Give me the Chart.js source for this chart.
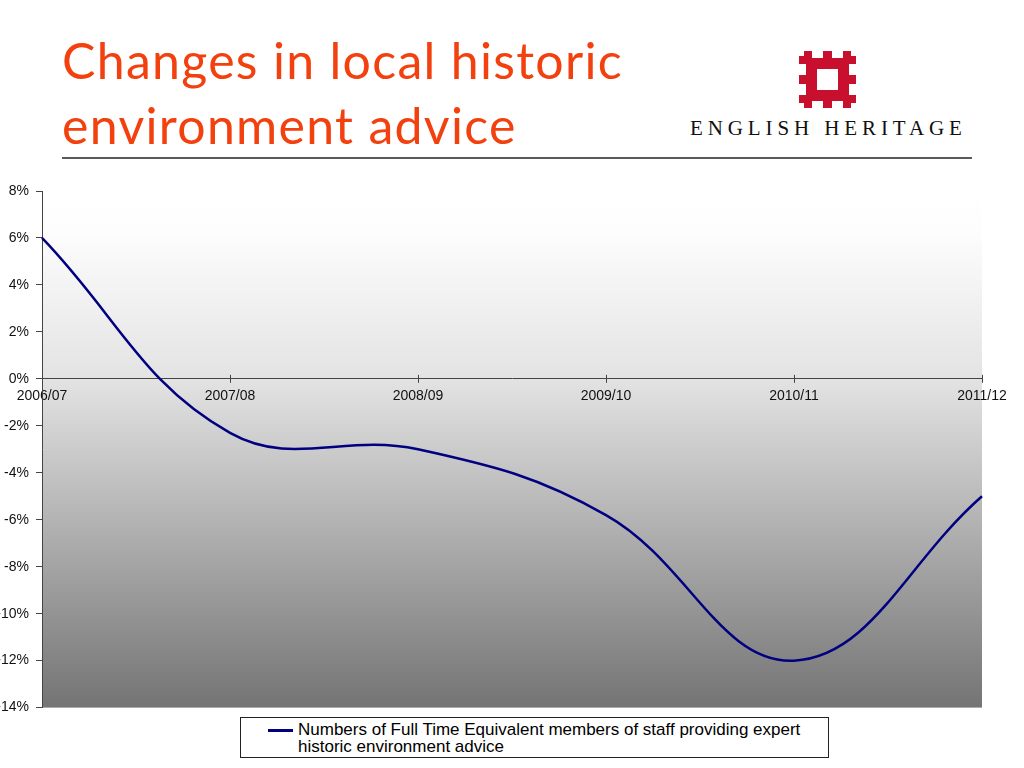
<!DOCTYPE html>
<html>
<head>
<meta charset="utf-8">
<script src="https://cdn.jsdelivr.net/npm/chart.js@4/dist/chart.umd.min.js"></script>
<style>
  html, body { margin: 0; padding: 0; background: #ffffff; }
  body { width: 1024px; height: 768px; position: relative; overflow: hidden; }
  #title { position: absolute; left: 62px; top: 28px; font-family: Lato, "Open Sans", sans-serif;
           font-size: 50px; line-height: 65px; letter-spacing: 1.3px; color: #f2400f; white-space: nowrap; }
  #sep { position: absolute; left: 62px; top: 157px; width: 910px; height: 2px; background: #5a5a5a; }
  #logo { position: absolute; left: 799px; top: 51px; }
  #eh { position: absolute; left: 690px; top: 118px; font-family: "Liberation Serif", "DejaVu Serif", serif;
        font-size: 21px; line-height: 21px; letter-spacing: 4.9px; color: #111; white-space: nowrap; }
  #chartWrap { position: absolute; left: 0; top: 160px; width: 1024px; height: 563px; }
  #legend { position: absolute; left: 240px; top: 717px; width: 589px; height: 41px; border: 1px solid #222;
            box-sizing: border-box; background: #fff; }
  #legSwatch { position: absolute; left: 27px; top: 11px; width: 25px; height: 2.5px; background: #000080; }
  #legText { position: absolute; left: 57px; top: 3px; font-family: "Liberation Sans", Arial, sans-serif;
             font-size: 17px; line-height: 17px; color: #000; white-space: nowrap; }
</style>
</head>
<body>
<div id="title">Changes in local historic<br>environment advice</div>
<svg id="logo" width="57" height="57" viewBox="0 0 57 57">
  <g fill="#c8102e">
    <rect x="7" y="7" width="43" height="11"/>
    <rect x="7" y="39" width="43" height="11"/>
    <rect x="7" y="18" width="11" height="21"/>
    <rect x="39" y="18" width="11" height="21"/>
    <rect x="5" y="0" width="8" height="7"/><rect x="24" y="0" width="9" height="7"/><rect x="44" y="0" width="8" height="7"/>
    <rect x="5" y="50" width="8" height="7"/><rect x="24" y="50" width="9" height="7"/><rect x="44" y="50" width="8" height="7"/>
    <rect x="0" y="5" width="7" height="8"/><rect x="0" y="24" width="7" height="9"/><rect x="0" y="44" width="7" height="8"/>
    <rect x="50" y="5" width="7" height="8"/><rect x="50" y="24" width="7" height="9"/><rect x="50" y="44" width="7" height="8"/>
  </g>
</svg>
<div id="eh">ENGLISH HERITAGE</div>
<div id="sep"></div>
<div id="chartWrap"><canvas id="c" width="1024" height="563"></canvas></div>
<div id="legend"><div id="legSwatch"></div><div id="legText"></div></div>

<script>
// ---- data ----
const categories = ["2006/07", "2007/08", "2008/09", "2009/10", "2010/11", "2011/12"];
const fteChange = [6.0, -2.3, -3.0, -5.8, -12.0, -5.0];
const seriesLabel = "Numbers of Full Time Equivalent members of staff providing expert historic environment advice";
const legendLines = ["Numbers of Full Time Equivalent members of staff providing expert", "historic environment advice"];
const yMin = -14, yMax = 8, yStep = 2;

document.getElementById('legText').innerHTML = legendLines.join('<br>');

const bgPlugin = {
  id: 'bgGradient',
  beforeDraw(chart) {
    const { ctx, chartArea: a } = chart;
    const g = ctx.createLinearGradient(0, a.top, 0, a.bottom);
    g.addColorStop(0, '#ffffff');
    g.addColorStop(0.08, '#fdfdfd');
    g.addColorStop(0.364, '#e3e3e3');
    g.addColorStop(1, '#747474');
    ctx.save();
    ctx.fillStyle = g;
    ctx.fillRect(a.left, a.top, a.right - a.left, a.bottom - a.top);
    ctx.restore();
  }
};

const crossTicks = {
  id: 'crossTicks',
  afterDatasetsDraw(chart) {
    const x = chart.scales.x, y = chart.scales.y;
    const y0 = y.getPixelForValue(0);
    const ctx = chart.ctx;
    ctx.save();
    ctx.strokeStyle = '#444';
    ctx.lineWidth = 1;
    for (let i = 1; i < categories.length; i++) {
      const px = Math.round(x.getPixelForTick(i)) + 0.5;
      ctx.beginPath();
      ctx.moveTo(px, y0 - 4);
      ctx.lineTo(px, y0 + 4);
      ctx.stroke();
    }
    ctx.restore();
  }
};

new Chart(document.getElementById('c'), {
  type: 'line',
  data: {
    labels: categories,
    datasets: [{
      label: seriesLabel,
      data: fteChange,
      borderColor: '#000080',
      backgroundColor: '#000080',
      borderWidth: 2.5,
      pointRadius: 0,
      tension: 0.4,
      fill: false,
      clip: false
    }]
  },
  options: {
    responsive: false,
    animation: false,
    layout: { padding: { left: 0, right: 42, top: 31, bottom: 11 } },
    plugins: { legend: { display: false }, tooltip: { enabled: false } },
    scales: {
      x: {
        position: { y: 0 },
        offset: false,
        afterFit(s) { s.height = 0; },
        grid: { display: true, drawOnChartArea: false, drawTicks: false, color: '#444' },
        border: { display: true, color: '#444', width: 1 },
        ticks: {
          autoSkip: false, maxRotation: 0, minRotation: 0, padding: 9,
          color: '#111', font: { family: '"Liberation Sans", Arial, sans-serif', size: 14 }
        }
      },
      y: {
        min: yMin, max: yMax,
        afterFit(s) { s.width = 42; },
        grid: { display: true, drawOnChartArea: false, drawTicks: true, tickLength: 6, color: '#444' },
        border: { display: true, color: '#444', width: 1 },
        ticks: {
          stepSize: yStep, padding: 7,
          color: '#111', font: { family: '"Liberation Sans", Arial, sans-serif', size: 14 },
          callback: v => v + '%'
        }
      }
    }
  },
  plugins: [bgPlugin, crossTicks]
});
</script>
</body>
</html>
